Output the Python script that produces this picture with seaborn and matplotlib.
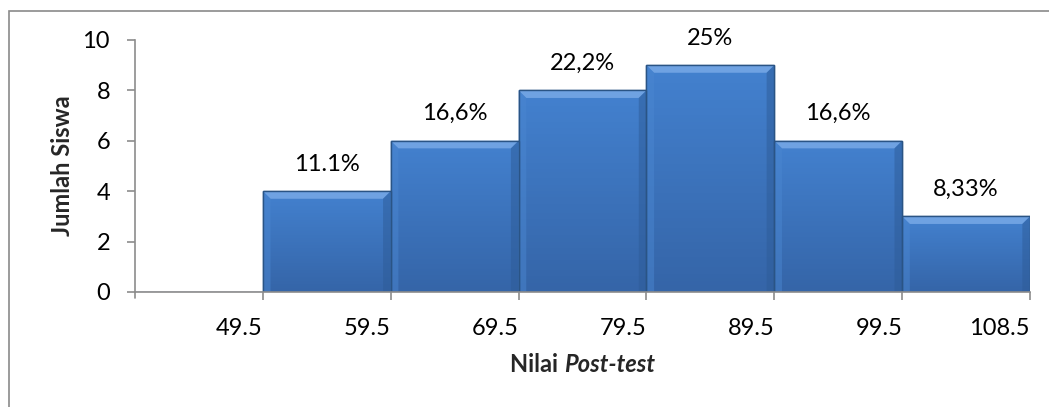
import numpy as np
import pandas as pd
import matplotlib
matplotlib.use("Agg")
import matplotlib.pyplot as plt
from matplotlib.patches import Rectangle, Polygon
import seaborn as sns

# Class intervals of post-test scores and the number of students in each
bins = ["39.5-49.5", "49.5-59.5", "59.5-69.5", "69.5-79.5", "79.5-89.5", "89.5-99.5", "99.5-108.5"]
counts = [0, 4, 6, 8, 9, 6, 3]
pct_labels = ["", "11.1%", "16,6%", "22,2%", "25%", "16,6%", "8,33%"]
edge_labels = ["49.5", "59.5", "69.5", "79.5", "89.5", "99.5", "108.5"]

sns.set_theme(style="white")
plt.rcParams["font.family"] = ["Lato", "DejaVu Sans"]

W, H = 1049, 407
fig = plt.figure(figsize=(W / 100, H / 100), dpi=100)
ax = fig.add_axes([135 / W, 1 - 292 / H, (1030 - 135) / W, (292 - 40) / H])

df = pd.DataFrame({"kelas": bins, "jumlah": counts})
sns.barplot(data=df, x="kelas", y="jumlah", color="#3F7BC7", width=1.0,
            edgecolor="#2A5485", linewidth=1.0, saturation=1, ax=ax, zorder=2)

ax.set_xlim(-0.5, 6.5)
ax.set_ylim(0, 10)

# Bevel shading on each bar
bev_x = 0.06
bev_y = 0.3
grad = np.linspace(0, 1, 64).reshape(-1, 1)
cmap = matplotlib.colors.LinearSegmentedColormap.from_list("bar", ["#3565A8", "#4381CF"])
for p in ax.patches:
    h = p.get_height()
    if h <= 0:
        continue
    x0, w = p.get_x(), p.get_width()
    x1 = x0 + w
    im = ax.imshow(grad, extent=(x0, x1, 0, h), origin="lower", cmap=cmap,
                   aspect="auto", zorder=2.1)
    im.set_clip_path(p)
    # top bevel (light)
    ax.add_patch(Polygon([(x0, h), (x1, h), (x1 - bev_x, h - bev_y), (x0 + bev_x, h - bev_y)],
                         closed=True, facecolor="#6FA2E2", edgecolor="none", zorder=2.2))
    # left bevel
    ax.add_patch(Polygon([(x0, h), (x0 + bev_x, h - bev_y), (x0 + bev_x, 0), (x0, 0)],
                         closed=True, facecolor="#4A86D0", edgecolor="none", alpha=0.5, zorder=2.2))
    # right bevel (dark)
    ax.add_patch(Polygon([(x1, h), (x1 - bev_x, h - bev_y), (x1 - bev_x, 0), (x1, 0)],
                         closed=True, facecolor="#2E5C98", edgecolor="none", alpha=0.5, zorder=2.2))
    ax.add_patch(Rectangle((x0, 0), w, h, facecolor="none", edgecolor="#2A5485",
                           linewidth=1.0, zorder=2.3))

# Percentage labels above the bars
for i, (c, lab) in enumerate(zip(counts, pct_labels)):
    if lab:
        ax.annotate(lab, xy=(i, c), xytext=(0, 12), textcoords="offset points",
                    ha="center", va="bottom", fontsize=17, color="black")

# Axes styling
for s in ["top", "right"]:
    ax.spines[s].set_visible(False)
for s in ["left", "bottom"]:
    ax.spines[s].set_color("#8C8C8C")
    ax.spines[s].set_linewidth(1.2)

ax.set_yticks(np.arange(0, 11, 2))
ax.set_xticks(np.arange(7) + 0.5)
ax.set_xticklabels(edge_labels, ha="right")
ax.tick_params(axis="both", which="both", direction="out", length=6, width=1.2,
               color="#8C8C8C", labelsize=17, labelcolor="black", left=True, bottom=True)
ax.tick_params(axis="x", pad=13)
ax.tick_params(axis="y", pad=12)
# extra tick at the axis origin
ax.plot([-0.5, -0.5], [0, -0.25], color="#8C8C8C", lw=1.2, clip_on=False, zorder=3)

ax.set_xlabel("")
ax.set_ylabel("Jumlah Siswa", fontsize=17, fontweight="bold", labelpad=6)

# x label with italic part, centred under the axis
t1 = fig.text(0.5, 1 - 365 / H, "Nilai ", fontsize=17, fontweight="bold",
              ha="left", va="center")
t2 = ax.annotate("Post-test", xy=(1, 0), xycoords=t1, va="bottom", ha="left",
                 fontsize=17, fontweight="bold", fontstyle="italic")
fig.canvas.draw()
r = fig.canvas.get_renderer()
b1 = t1.get_window_extent(r)
b2 = t2.get_window_extent(r)
total = b2.x1 - b1.x0
t1.set_x(((135 + 1030) / 2 - total / 2) / W)

# outer chart frame
fig.add_artist(Rectangle((9 / W, -0.1), 1.1, 1 - 11 / H + 0.1, transform=fig.transFigure,
                         facecolor="none", edgecolor="#8A8A8A", linewidth=1.2))

fig.savefig("out.png", dpi=100)
